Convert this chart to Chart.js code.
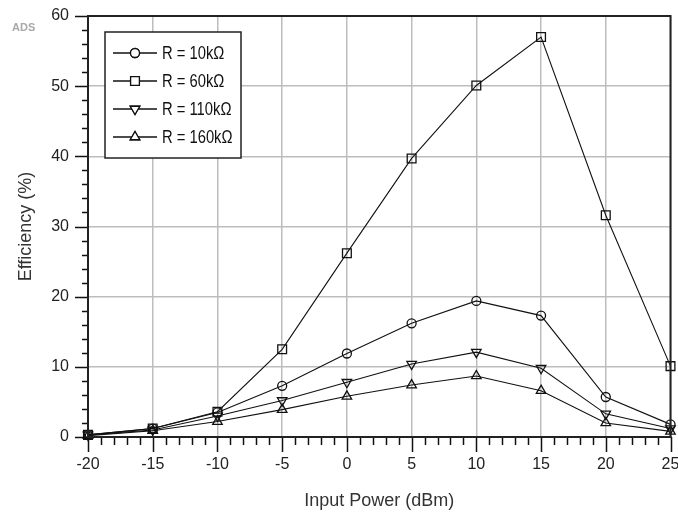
<!DOCTYPE html>
<html>
<head>
<meta charset="utf-8">
<script src="https://cdn.jsdelivr.net/npm/chart.js@4.4.0/dist/chart.umd.min.js"></script>
<style>
  html, body { margin: 0; padding: 0; background: #fff; }
</style>
</head>
<body>
<canvas id="effChart" width="678" height="512"></canvas>
<script>
// Input power sweep (dBm) and efficiency (%) for each load resistance
const powerDbm = [-20, -15, -10, -5, 0, 5, 10, 15, 20, 25];
const eff10k  = [0.3, 1.2, 3.5, 7.3, 11.9, 16.2, 19.4, 17.3, 5.7, 1.8];
const eff60k  = [0.3, 1.2, 3.6, 12.5, 26.2, 39.7, 50.1, 57.0, 31.6, 10.1];
const eff110k = [0.3, 1.0, 3.0, 5.2, 7.8, 10.4, 12.1, 9.8, 3.3, 1.2];
const eff160k = [0.2, 0.9, 2.2, 3.9, 5.8, 7.4, 8.7, 6.6, 2.0, 0.8];
const loadLabels = ['R = 10k\u03A9', 'R = 60k\u03A9', 'R = 110k\u03A9', 'R = 160k\u03A9'];

const xTicks = [-20, -15, -10, -5, 0, 5, 10, 15, 20, 25];
const yTicks = [0, 10, 20, 30, 40, 50, 60];

const toPoints = vals => vals.map((v, i) => ({ x: powerDbm[i], y: v }));

function series(label, vals, style, radius, rotation) {
    return {
        label: label,
        data: toPoints(vals),
        borderColor: '#111',
        borderWidth: 1.1,
        pointStyle: style,
        pointRadius: radius,
        pointRotation: rotation || 0,
        pointBorderColor: '#111',
        pointBorderWidth: 1.3,
        pointBackgroundColor: 'rgba(0,0,0,0)',
        pointHoverRadius: radius,
        clip: false,
        tension: 0
    };
}

const datasets = [
    series(loadLabels[0], eff10k, 'circle', 4.5),
    series(loadLabels[1], eff60k, 'rect', 6.2),
    series(loadLabels[2], eff110k, 'triangle', 5.5, 180),
    series(loadLabels[3], eff160k, 'triangle', 5.5)
];

// axis frame, minor/major tick marks, the "ADS" tag and the boxed legend
const framePlugin = {
    id: 'frame',
    afterDraw(chart) {
        const ctx = chart.ctx;
        const a = chart.chartArea;
        const x = chart.scales.x, y = chart.scales.y;
        ctx.save();
        ctx.strokeStyle = '#111';
        ctx.lineWidth = 1.5;
        ctx.beginPath();
        for (let v = xTicks[0]; v <= xTicks[xTicks.length - 1]; v++) {
            const px = Math.round(x.getPixelForValue(v)) + 0.5;
            const len = v % 5 === 0 ? 15 : 8;
            ctx.moveTo(px, a.bottom);
            ctx.lineTo(px, a.bottom + len);
        }
        for (let v = yTicks[0]; v <= yTicks[yTicks.length - 1]; v += 2) {
            const py = Math.round(y.getPixelForValue(v)) + 0.5;
            const len = v % 10 === 0 ? 13 : 6;
            ctx.moveTo(a.left - len, py);
            ctx.lineTo(a.left, py);
        }
        ctx.stroke();

        ctx.lineWidth = 2;
        ctx.strokeStyle = '#222';
        ctx.strokeRect(a.left, a.top, a.right - a.left, a.bottom - a.top);

        ctx.font = 'bold 11px "Liberation Sans", Arial, sans-serif';
        ctx.fillStyle = '#a8a8a8';
        ctx.textBaseline = 'alphabetic';
        ctx.textAlign = 'left';
        ctx.fillText('ADS', 12, 31);

        // legend
        const lx = a.left + 17, ly = a.top + 16, lw = 136, lh = 126;
        ctx.fillStyle = '#fff';
        ctx.fillRect(lx, ly, lw, lh);
        ctx.lineWidth = 1.5;
        ctx.strokeStyle = '#222';
        ctx.strokeRect(lx, ly, lw, lh);
        chart.data.datasets.forEach((ds, i) => {
            const cy = ly + 21 + i * 28;
            ctx.strokeStyle = '#111';
            ctx.lineWidth = 1.3;
            ctx.beginPath();
            ctx.moveTo(lx + 8, cy);
            ctx.lineTo(lx + 52, cy);
            ctx.stroke();
            ctx.fillStyle = '#fff';
            Chart.helpers.drawPoint(ctx, {
                pointStyle: ds.pointStyle,
                radius: ds.pointRadius,
                rotation: ds.pointRotation,
                borderWidth: 1.3
            }, lx + 30, cy);
            ctx.fill();
            ctx.stroke();
            // condensed label text
            ctx.save();
            ctx.translate(lx + 57, cy + 1);
            ctx.scale(0.82, 1);
            ctx.fillStyle = '#111';
            ctx.font = '18px "Liberation Sans", Arial, sans-serif';
            ctx.textBaseline = 'middle';
            ctx.fillText(ds.label, 0, 0);
            ctx.restore();
        });
        ctx.restore();
    }
};

new Chart(document.getElementById('effChart').getContext('2d'), {
    type: 'line',
    data: { datasets: datasets },
    options: {
        responsive: false,
        animation: false,
        layout: { padding: { top: 16, right: 6, left: 0, bottom: 0 } },
        plugins: {
            legend: { display: false },
            tooltip: { enabled: false }
        },
        scales: {
            x: {
                type: 'linear',
                min: xTicks[0],
                max: xTicks[xTicks.length - 1],
                afterBuildTicks: s => { s.ticks = xTicks.map(v => ({ value: v })); },
                afterFit: s => { s.height = 75; s.paddingLeft = 0; s.paddingRight = 0; },
                grid: { color: '#bdbdbd', lineWidth: 1.5, drawTicks: false },
                border: { display: true, color: '#111', width: 2 },
                ticks: {
                    padding: 18,
                    color: '#222',
                    font: { family: '"Liberation Sans", Arial, sans-serif', size: 16 },
                    maxRotation: 0,
                    autoSkip: false
                },
                title: {
                    display: true,
                    text: 'Input Power (dBm)',
                    color: '#333',
                    font: { family: '"Liberation Sans", Arial, sans-serif', size: 18 },
                    padding: { top: 0, bottom: 0 }
                }
            },
            y: {
                min: yTicks[0],
                max: yTicks[yTicks.length - 1],
                afterBuildTicks: s => { s.ticks = yTicks.map(v => ({ value: v })); },
                afterFit: s => { s.width = 88; s.paddingTop = 0; s.paddingBottom = 0; },
                grid: { color: '#bdbdbd', lineWidth: 1.5, drawTicks: false },
                border: { display: true, color: '#111', width: 2 },
                ticks: {
                    padding: 19,
                    color: '#222',
                    font: { family: '"Liberation Sans", Arial, sans-serif', size: 16 }
                },
                title: {
                    display: true,
                    text: 'Efficiency (%)',
                    color: '#333',
                    font: { family: '"Liberation Sans", Arial, sans-serif', size: 18 },
                    padding: { top: 15, bottom: 0 }
                }
            }
        }
    },
    plugins: [framePlugin]
});
</script>
</body>
</html>
